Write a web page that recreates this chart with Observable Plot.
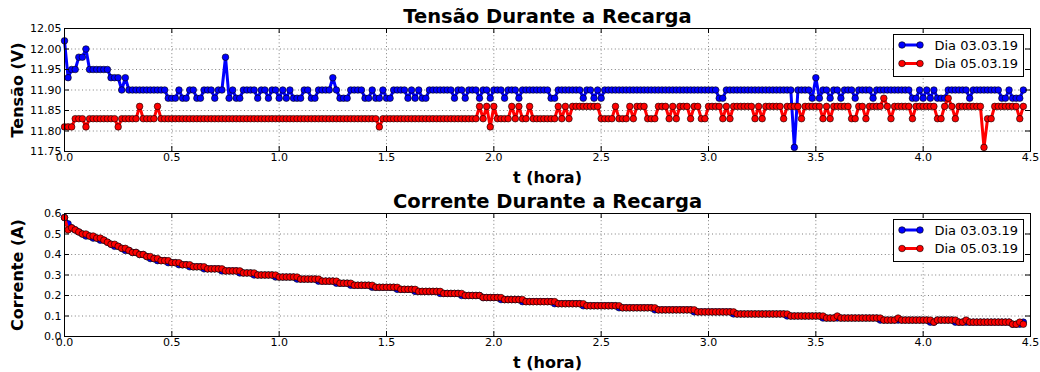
<!DOCTYPE html>
<html><head><meta charset="utf-8">
<script src="https://cdn.jsdelivr.net/npm/d3@7"></script>
<script src="https://cdn.jsdelivr.net/npm/@observablehq/plot@0.6"></script>
<style>
body{margin:0;background:#fff;font-family:"DejaVu Sans",sans-serif;}
#wrap{position:relative;width:1040px;height:372px;}
#wrap svg{display:block;}
.legend{position:absolute;left:893px;width:131px;height:43px;border:1px solid #000;background:#fff;box-sizing:border-box;}
.legend svg{position:absolute;left:0;top:0;}
</style></head><body><div id="wrap"></div>
<script>
// Sample times: one reading per minute (t in hours = minute / 60)
const seriesLabels = ["Dia 03.03.19", "Dia 05.03.19"];
const seriesColors = ["#0000ff", "#ff0000"];
const xTicks = [0, 0.5, 1, 1.5, 2, 2.5, 3, 3.5, 4, 4.5];
const voltageTicks = [11.75, 11.80, 11.85, 11.90, 11.95, 12.00, 12.05];
const currentTicks = [0, 0.1, 0.2, 0.3, 0.4, 0.5, 0.6];

const voltage03 = [
12.02,11.93,11.95,11.95,11.98,11.98,12.00,11.95,11.95,11.95,
11.95,11.95,11.95,11.93,11.93,11.93,11.90,11.93,11.90,11.90,
11.90,11.90,11.90,11.90,11.90,11.90,11.90,11.90,11.90,11.88,
11.88,11.88,11.90,11.88,11.88,11.90,11.90,11.88,11.88,11.90,
11.90,11.90,11.88,11.90,11.90,11.98,11.88,11.90,11.88,11.88,
11.90,11.90,11.90,11.90,11.88,11.90,11.90,11.88,11.90,11.90,
11.88,11.90,11.88,11.90,11.88,11.88,11.88,11.90,11.90,11.88,
11.88,11.90,11.90,11.90,11.90,11.93,11.90,11.88,11.88,11.88,
11.90,11.90,11.90,11.90,11.88,11.88,11.90,11.88,11.88,11.90,
11.88,11.88,11.90,11.90,11.90,11.90,11.88,11.90,11.88,11.90,
11.88,11.88,11.90,11.90,11.90,11.90,11.90,11.90,11.90,11.88,
11.90,11.90,11.88,11.90,11.90,11.90,11.88,11.90,11.90,11.88,
11.90,11.90,11.90,11.88,11.90,11.90,11.90,11.88,11.90,11.90,
11.90,11.90,11.90,11.90,11.90,11.90,11.88,11.88,11.90,11.90,
11.90,11.90,11.90,11.90,11.90,11.88,11.90,11.90,11.88,11.90,
11.88,11.90,11.90,11.90,11.90,11.90,11.90,11.90,11.90,11.90,
11.90,11.90,11.90,11.90,11.90,11.90,11.90,11.90,11.90,11.90,
11.90,11.90,11.90,11.90,11.90,11.90,11.90,11.90,11.90,11.90,
11.90,11.90,11.90,11.88,11.88,11.90,11.90,11.90,11.90,11.90,
11.90,11.90,11.90,11.90,11.90,11.90,11.90,11.90,11.90,11.90,
11.90,11.90,11.90,11.90,11.76,11.90,11.90,11.90,11.90,11.88,
11.93,11.88,11.90,11.90,11.88,11.90,11.90,11.88,11.90,11.90,
11.90,11.88,11.90,11.90,11.90,11.90,11.88,11.90,11.90,11.90,
11.90,11.90,11.90,11.90,11.90,11.90,11.90,11.88,11.88,11.90,
11.88,11.90,11.88,11.90,11.88,11.88,11.88,11.90,11.90,11.90,
11.90,11.90,11.90,11.88,11.90,11.90,11.90,11.90,11.90,11.90,
11.90,11.90,11.88,11.88,11.90,11.88,11.88,11.88,11.90
];

const voltage05 = [
11.81,11.81,11.81,11.83,11.83,11.83,11.81,11.83,11.83,11.83,
11.83,11.83,11.83,11.83,11.83,11.81,11.83,11.83,11.83,11.83,
11.83,11.86,11.83,11.83,11.83,11.83,11.86,11.83,11.83,11.83,
11.83,11.83,11.83,11.83,11.83,11.83,11.83,11.83,11.83,11.83,
11.83,11.83,11.83,11.83,11.83,11.83,11.83,11.83,11.83,11.83,
11.83,11.83,11.83,11.83,11.83,11.83,11.83,11.83,11.83,11.83,
11.83,11.83,11.83,11.83,11.83,11.83,11.83,11.83,11.83,11.83,
11.83,11.83,11.83,11.83,11.83,11.83,11.83,11.83,11.83,11.83,
11.83,11.83,11.83,11.83,11.83,11.83,11.83,11.83,11.81,11.83,
11.83,11.83,11.83,11.83,11.83,11.83,11.83,11.83,11.83,11.83,
11.83,11.83,11.83,11.83,11.83,11.83,11.83,11.83,11.83,11.83,
11.83,11.83,11.83,11.83,11.83,11.83,11.86,11.83,11.86,11.81,
11.86,11.83,11.83,11.83,11.83,11.86,11.83,11.86,11.83,11.83,
11.86,11.83,11.83,11.83,11.83,11.83,11.83,11.83,11.86,11.83,
11.86,11.83,11.86,11.86,11.86,11.86,11.86,11.86,11.86,11.86,
11.83,11.83,11.83,11.83,11.86,11.83,11.83,11.83,11.86,11.83,
11.86,11.86,11.86,11.83,11.83,11.83,11.86,11.86,11.86,11.83,
11.86,11.83,11.86,11.86,11.86,11.83,11.86,11.86,11.83,11.83,
11.86,11.86,11.86,11.86,11.83,11.86,11.83,11.86,11.86,11.86,
11.86,11.86,11.86,11.83,11.86,11.83,11.86,11.86,11.86,11.86,
11.86,11.83,11.86,11.86,11.86,11.86,11.83,11.86,11.86,11.86,
11.86,11.86,11.83,11.86,11.83,11.86,11.86,11.86,11.86,11.86,
11.83,11.83,11.86,11.86,11.83,11.86,11.86,11.86,11.86,11.88,
11.86,11.83,11.86,11.86,11.86,11.86,11.86,11.83,11.86,11.86,
11.86,11.86,11.86,11.86,11.83,11.83,11.86,11.88,11.86,11.83,
11.86,11.86,11.86,11.86,11.86,11.86,11.86,11.76,11.83,11.83,
11.86,11.86,11.86,11.86,11.86,11.86,11.86,11.83,11.86
];

const current03 = [
0.58,0.55,0.53,0.52,0.51,0.50,0.49,0.49,0.48,0.48,
0.47,0.47,0.46,0.45,0.44,0.44,0.43,0.42,0.42,0.41,
0.41,0.40,0.40,0.39,0.38,0.38,0.37,0.37,0.37,0.36,
0.36,0.36,0.35,0.35,0.35,0.34,0.34,0.34,0.34,0.33,
0.33,0.33,0.33,0.33,0.32,0.32,0.32,0.32,0.32,0.31,
0.31,0.31,0.31,0.30,0.30,0.30,0.30,0.30,0.30,0.29,
0.29,0.29,0.29,0.29,0.29,0.28,0.28,0.28,0.28,0.28,
0.28,0.27,0.27,0.27,0.27,0.27,0.26,0.26,0.26,0.26,
0.25,0.25,0.25,0.25,0.25,0.25,0.24,0.24,0.24,0.24,
0.24,0.24,0.24,0.23,0.23,0.23,0.23,0.23,0.22,0.22,
0.22,0.22,0.22,0.22,0.22,0.21,0.21,0.21,0.21,0.21,
0.21,0.20,0.20,0.20,0.20,0.20,0.20,0.19,0.19,0.19,
0.19,0.19,0.18,0.18,0.18,0.18,0.18,0.18,0.17,0.17,
0.17,0.17,0.17,0.17,0.17,0.17,0.17,0.16,0.16,0.16,
0.16,0.16,0.16,0.16,0.16,0.15,0.15,0.15,0.15,0.15,
0.15,0.15,0.15,0.15,0.15,0.14,0.14,0.14,0.14,0.14,
0.14,0.14,0.14,0.14,0.14,0.13,0.13,0.13,0.13,0.13,
0.13,0.13,0.13,0.13,0.13,0.13,0.12,0.12,0.12,0.12,
0.12,0.12,0.12,0.12,0.12,0.12,0.12,0.11,0.11,0.11,
0.11,0.11,0.11,0.11,0.11,0.11,0.11,0.11,0.11,0.11,
0.11,0.11,0.10,0.10,0.10,0.10,0.10,0.10,0.10,0.10,
0.10,0.10,0.09,0.09,0.09,0.09,0.09,0.09,0.09,0.09,
0.09,0.09,0.09,0.09,0.09,0.09,0.09,0.09,0.08,0.08,
0.08,0.08,0.08,0.08,0.08,0.08,0.08,0.08,0.08,0.08,
0.08,0.08,0.07,0.07,0.08,0.08,0.08,0.08,0.08,0.07,
0.07,0.07,0.07,0.07,0.07,0.07,0.07,0.07,0.07,0.07,
0.07,0.07,0.07,0.07,0.07,0.06,0.06,0.06,0.07
];

const current05 = [
0.58,0.52,0.53,0.52,0.51,0.50,0.50,0.49,0.49,0.48,
0.48,0.47,0.46,0.45,0.45,0.44,0.43,0.43,0.42,0.41,
0.41,0.40,0.40,0.39,0.39,0.38,0.38,0.37,0.37,0.37,
0.36,0.36,0.36,0.35,0.35,0.35,0.34,0.34,0.34,0.34,
0.33,0.33,0.33,0.33,0.33,0.32,0.32,0.32,0.32,0.32,
0.31,0.31,0.31,0.31,0.30,0.30,0.30,0.30,0.30,0.30,
0.29,0.29,0.29,0.29,0.29,0.29,0.28,0.28,0.28,0.28,
0.28,0.28,0.27,0.27,0.27,0.27,0.27,0.26,0.26,0.26,
0.26,0.25,0.25,0.25,0.25,0.25,0.25,0.24,0.24,0.24,
0.24,0.24,0.24,0.24,0.23,0.23,0.23,0.23,0.23,0.22,
0.22,0.22,0.22,0.22,0.22,0.22,0.21,0.21,0.21,0.21,
0.21,0.21,0.20,0.20,0.20,0.20,0.20,0.19,0.19,0.19,
0.19,0.19,0.19,0.18,0.18,0.18,0.18,0.18,0.18,0.17,
0.17,0.17,0.17,0.17,0.17,0.17,0.17,0.17,0.16,0.16,
0.16,0.16,0.16,0.16,0.16,0.16,0.15,0.15,0.15,0.15,
0.15,0.15,0.15,0.15,0.15,0.15,0.14,0.14,0.14,0.14,
0.14,0.14,0.14,0.14,0.14,0.14,0.13,0.13,0.13,0.13,
0.13,0.13,0.13,0.13,0.13,0.13,0.13,0.12,0.12,0.12,
0.12,0.12,0.12,0.12,0.12,0.12,0.12,0.12,0.11,0.11,
0.11,0.11,0.11,0.11,0.11,0.11,0.11,0.11,0.11,0.11,
0.11,0.11,0.11,0.10,0.10,0.10,0.10,0.10,0.10,0.10,
0.10,0.10,0.10,0.09,0.09,0.09,0.10,0.09,0.09,0.09,
0.09,0.09,0.09,0.09,0.09,0.09,0.09,0.09,0.09,0.08,
0.08,0.08,0.08,0.09,0.08,0.08,0.08,0.08,0.08,0.08,
0.08,0.08,0.08,0.07,0.08,0.08,0.08,0.08,0.08,0.08,
0.07,0.07,0.08,0.07,0.07,0.07,0.07,0.07,0.07,0.07,
0.07,0.07,0.07,0.07,0.07,0.06,0.06,0.07,0.06
];

const toRows = (values) => values.map((v, i) => ({t: i / 60, v}));

function panel({series, yDomain, yTicks, yFormat, title, yLabel, marginTop, marginBottom, height}) {
  const frameH = height - marginTop - marginBottom;
  const frameW = 1040 - 64 - 10;
  const gridStyle = {stroke: "#000", strokeOpacity: 0.85, strokeWidth: 0.6, strokeDasharray: "1,2.6"};
  const seriesMarks = series.flatMap((values, k) => {
    const rows = toRows(values);
    return [
      Plot.line(rows, {x: "t", y: "v", stroke: seriesColors[k], strokeWidth: 3}),
      Plot.dot(rows, {x: "t", y: "v", r: 3.3, fill: seriesColors[k], stroke: "#000", strokeWidth: 0.6})
    ];
  });
  return Plot.plot({
    width: 1040, height, marginLeft: 64, marginRight: 10, marginTop, marginBottom,
    style: {fontFamily: "DejaVu Sans", fontSize: "11px", color: "#000", background: "transparent", overflow: "visible"},
    x: {domain: [0, 4.5]},
    y: {domain: yDomain},
    marks: [
      Plot.gridX(xTicks, gridStyle),
      Plot.gridY(yTicks, gridStyle),
      ...seriesMarks,
      Plot.frame({stroke: "#000", strokeWidth: 1}),
      Plot.tickX(xTicks, {x: d => d, insetTop: frameH - 5, stroke: "#000"}),
      Plot.tickX(xTicks, {x: d => d, insetBottom: frameH - 5, stroke: "#000"}),
      Plot.tickY(yTicks, {y: d => d, insetRight: frameW - 5, stroke: "#000"}),
      Plot.tickY(yTicks, {y: d => d, insetLeft: frameW - 5, stroke: "#000"}),
      Plot.axisX(xTicks, {tickSize: 0, tickPadding: 2, tickFormat: d3.format(".1f"), label: null}),
      Plot.axisY(yTicks, {tickSize: 0, tickPadding: 3, tickFormat: yFormat, label: null}),
      Plot.text([title], {text: d => d, frameAnchor: "top", lineAnchor: "middle", dy: -12, fontSize: 19.5, fontWeight: "bold"}),
      Plot.text(["t (hora)"], {text: d => d, frameAnchor: "bottom", lineAnchor: "middle", dy: 26, fontSize: 16, fontWeight: "bold"}),
      Plot.text([yLabel], {text: d => d, frameAnchor: "left", textAnchor: "middle", lineAnchor: "middle", dx: -47, rotate: -90, fontSize: 16, fontWeight: "bold"})
    ]
  });
}

function legend(top) {
  const div = document.createElement("div");
  div.className = "legend";
  div.style.top = top + "px";
  const ys = [10, 28.5];
  div.innerHTML = `<svg width="129" height="41">${seriesLabels.map((label, k) => {
    const y = ys[k], c = seriesColors[k];
    return `<line x1="8" x2="26" y1="${y}" y2="${y}" stroke="${c}" stroke-width="3"/>
      <circle cx="8" cy="${y}" r="3.3" fill="${c}" stroke="#000" stroke-width="0.6"/>
      <circle cx="26" cy="${y}" r="3.3" fill="${c}" stroke="#000" stroke-width="0.6"/>
      <text x="40.5" y="${y}" dy="0.36em" font-size="13" font-family="DejaVu Sans" fill="#000">${label}</text>`;
  }).join("")}</svg>`;
  return div;
}

const wrap = document.getElementById("wrap");
wrap.appendChild(panel({
  series: [voltage03, voltage05], yDomain: [11.75, 12.05], yTicks: voltageTicks, yFormat: d3.format(".2f"),
  title: "Tensão Durante a Recarga", yLabel: "Tensão (V)", marginTop: 28, marginBottom: 35, height: 186
}));
wrap.appendChild(panel({
  series: [current03, current05], yDomain: [0, 0.6], yTicks: currentTicks, yFormat: d3.format(".1f"),
  title: "Corrente Durante a Recarga", yLabel: "Corrente (A)", marginTop: 27, marginBottom: 36, height: 186
}));
wrap.appendChild(legend(34));
wrap.appendChild(legend(219));
</script>
</body></html>
